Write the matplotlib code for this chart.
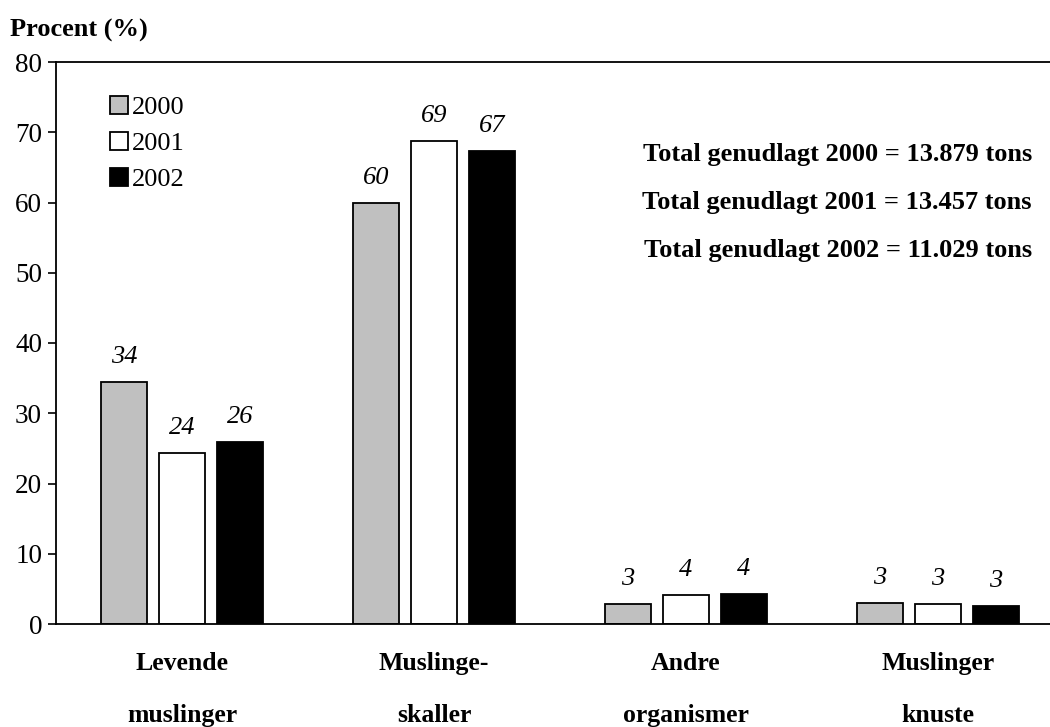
import matplotlib.pyplot as plt
import numpy as np

plt.rcParams['font.family'] = ['Liberation Serif', 'DejaVu Serif']

kategorier = ['Levende\nmuslinger', 'Muslinge-\nskaller', 'Andre\norganismer', 'Muslinger\nknuste']
aar = ['2000', '2001', '2002']
v2000 = [34.4, 60.0, 2.9, 3.0]
v2001 = [24.3, 68.8, 4.1, 2.8]
v2002 = [25.9, 67.3, 4.3, 2.6]
etiketter = [['34', '60', '3', '3'], ['24', '69', '4', '3'], ['26', '67', '4', '3']]
totaler = ['Total genudlagt 2000 = 13.879 tons',
           'Total genudlagt 2001 = 13.457 tons',
           'Total genudlagt 2002 = 11.029 tons']

farver = ['#c0c0c0', 'white', 'black']

fig = plt.figure(figsize=(10.5, 7.27), dpi=100)
ax = fig.add_axes([56 / 1050, 1 - 624 / 727, 1008 / 1050, 562 / 727])

x = np.arange(len(kategorier))
bredde = 0.18
afstand = 0.23
for i, (vals, farve) in enumerate(zip([v2000, v2001, v2002], farver)):
    pos = x + (i - 1) * afstand
    ax.bar(pos, vals, width=bredde, color=farve, edgecolor='black', linewidth=1.3, label=aar[i])
    for p, v, t in zip(pos, vals, etiketter[i]):
        ax.annotate(t, (p, v), xytext=(0, 10), textcoords='offset points',
                    ha='center', va='bottom', fontsize=19, style='italic')

ax.set_xlim(-0.5, 3.5)
ax.set_ylim(0, 80)
ax.set_yticks(range(0, 81, 10))
ax.tick_params(axis='y', labelsize=19.5, length=6, width=1.2, direction='out', pad=4)
ax.set_xticks(x)
ax.set_xticklabels(kategorier, fontsize=18.5, fontweight='bold', linespacing=2.65)
ax.tick_params(axis='x', length=0, pad=20)
for s in ['left', 'bottom', 'top']:
    ax.spines[s].set_linewidth(1.3)
ax.spines['right'].set_visible(False)

fig.text(10 / 1050, 1 - 30 / 727, 'Procent (%)', fontsize=19, fontweight='bold', va='center', ha='left')

for j, t in enumerate(totaler):
    fig.text(1032 / 1050, 1 - (155 + 47.5 * j) / 727, t, fontsize=19, fontweight='bold',
             ha='right', va='center')

leg = ax.legend(loc='upper left', bbox_to_anchor=(0.043, 0.958), frameon=False, fontsize=19,
                handlelength=0.68, handleheight=0.68, handletextpad=0.15, labelspacing=0.48,
                borderaxespad=0)

fig.savefig('out.png', dpi=100)
